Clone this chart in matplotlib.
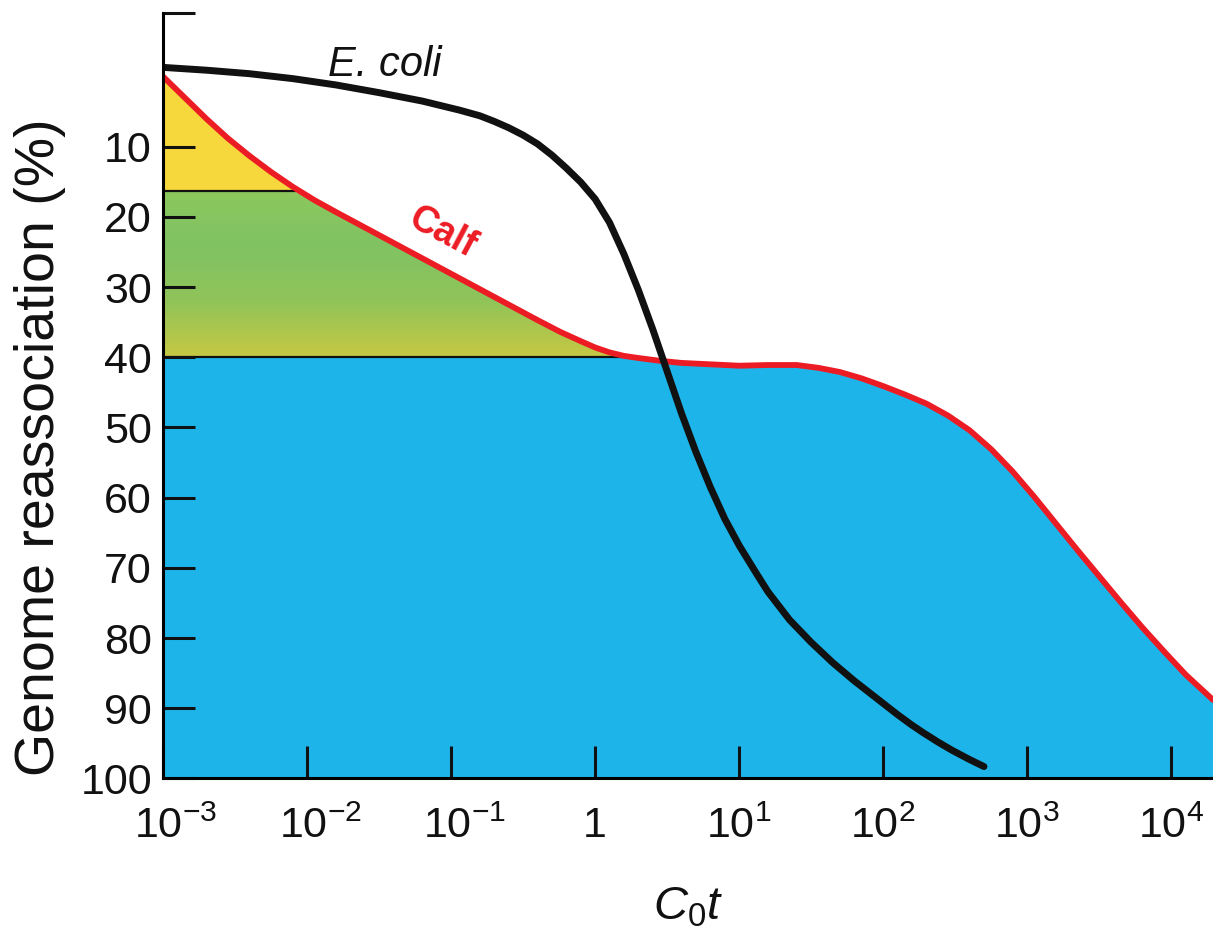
import numpy as np
import matplotlib
matplotlib.use("Agg")
from matplotlib import pyplot as plt
from matplotlib.colors import LinearSegmentedColormap
from matplotlib.transforms import ScaledTranslation

plt.rcParams['font.family'] = ['Liberation Sans', 'DejaVu Sans']
plt.rcParams['mathtext.fontset'] = 'custom'
plt.rcParams['mathtext.rm'] = 'Liberation Sans'
plt.rcParams['mathtext.it'] = 'Liberation Sans:italic'
plt.rcParams['mathtext.default'] = 'regular'

# values (log10 of C0t, % reassociation)
calf_log_cot = [-3.00, -2.85, -2.70, -2.55, -2.40, -2.25, -2.10, -1.95, -1.80, -1.60,
                -1.40, -1.20, -1.00, -0.80, -0.60, -0.40, -0.24, -0.10, 0.00, 0.10,
                0.20, 0.30, 0.45, 0.60, 0.80, 1.00, 1.20, 1.40, 1.55, 1.70,
                1.85, 2.00, 2.15, 2.30, 2.45, 2.60, 2.75, 2.90, 3.05, 3.20,
                3.35, 3.50, 3.65, 3.80, 3.95, 4.10, 4.29]
calf_pct = [0.0, 3.0, 6.0, 8.8, 11.3, 13.6, 15.7, 17.6, 19.3, 21.5,
            23.7, 25.9, 28.1, 30.3, 32.5, 34.7, 36.4, 37.7, 38.6, 39.3,
            39.8, 40.1, 40.5, 40.8, 41.0, 41.2, 41.1, 41.1, 41.5, 42.1,
            43.0, 44.1, 45.3, 46.6, 48.3, 50.4, 53.1, 56.3, 59.9, 63.7,
            67.5, 71.2, 74.9, 78.5, 81.9, 85.2, 88.8]

ecoli_log_cot = [-3.00, -2.70, -2.40, -2.10, -1.80, -1.50, -1.20, -0.94, -0.80, -0.70,
                 -0.60, -0.50, -0.40, -0.30, -0.20, -0.10, 0.00, 0.10, 0.20, 0.30,
                 0.40, 0.50, 0.60, 0.70, 0.80, 0.90, 1.00, 1.12, 1.20, 1.35,
                 1.50, 1.65, 1.80, 1.95, 2.10, 2.20, 2.28, 2.38, 2.48, 2.60, 2.70]
ecoli_pct = [-1.3, -0.9, -0.4, 0.3, 1.2, 2.3, 3.5, 4.8, 5.6, 6.4,
             7.3, 8.35, 9.6, 11.2, 13.05, 15.05, 17.45, 20.8, 25.3, 30.4,
             36.0, 42.0, 48.0, 53.5, 58.5, 63.0, 66.8, 70.8, 73.4, 77.4,
             80.6, 83.5, 86.1, 88.5, 90.9, 92.4, 93.5, 94.8, 96.0, 97.3, 98.3]

# boundaries between the shaded fractions
fast_limit = 16.3
mid_limit = 40.0

x_tick_exps = [-3, -2, -1, 0, 1, 2, 3, 4]
x_tick_labels = ['$10^{-3}$', '$10^{-2}$', '$10^{-1}$', '1',
                 '$10^{1}$', '$10^{2}$', '$10^{3}$', '$10^{4}$']
y_ticks = [10, 20, 30, 40, 50, 60, 70, 80, 90, 100]

calf_lx = np.array(calf_log_cot)
calf_x = 10 ** calf_lx
calf_y = np.array(calf_pct)
ecoli_x = 10 ** np.array(ecoli_log_cot)
ecoli_y = np.array(ecoli_pct)
x_max = 10 ** 4.29

fig = plt.figure(figsize=(12.13, 9.33), dpi=100)
ax = fig.add_axes([0.1344, 0.1656, 0.8656, 0.8205])
ax.set_xscale('log')
ax.set_xlim(1e-3, x_max)
ax.set_ylim(100, -9.05)

# blue: slow (unique) fraction
ax.fill_between(calf_x, np.maximum(calf_y, mid_limit), 100,
                color='#1db5e9', lw=0, zorder=1)
# yellow: fastest fraction
ax.fill_between(calf_x, calf_y, fast_limit, where=calf_y <= fast_limit,
                interpolate=True, color='#f6d73c', lw=0, zorder=1)
# green: intermediate fraction with a soft gradient
green = ax.fill_between(calf_x, np.clip(calf_y, fast_limit, mid_limit), mid_limit,
                        color='none', lw=0, zorder=1)
cmap = LinearSegmentedColormap.from_list('g', ['#8cc85c', '#80c263', '#90c459', '#c6c843'])
grad = np.linspace(0, 1, 256).reshape(-1, 1)
img = ax.imshow(grad, cmap=cmap, aspect='auto', origin='upper',
                extent=(1e-3, x_max, mid_limit, fast_limit), zorder=1)
img.set_clip_path(green.get_paths()[0], transform=ax.transData)

# dividing lines, ending where they meet the calf curve
rising = slice(0, 23)
x16 = 10 ** np.interp(fast_limit, calf_y[rising], calf_lx[rising])
x40 = 10 ** np.interp(mid_limit, calf_y[rising], calf_lx[rising])
ax.plot([1e-3, x16], [fast_limit, fast_limit], color='#111111', lw=1.6, zorder=2)
ax.plot([1e-3, x40], [mid_limit, mid_limit], color='#111111', lw=1.6, zorder=2)

ax.plot(calf_x, calf_y, color='#ec1c24', lw=4.2, zorder=3,
        solid_capstyle='round', solid_joinstyle='round')
ax.plot(ecoli_x, ecoli_y, color='#111111', lw=5.0, zorder=4,
        solid_capstyle='round', solid_joinstyle='round')

ax.text(10 ** -1.46, -1.7, 'E. coli', style='italic', fontsize=30,
        ha='center', va='center', color='#111111')
ax.text(10 ** -1.06, 22.3, 'Calf', fontsize=27, fontweight='bold', color='#ec1c24',
        ha='center', va='center', rotation=-28, rotation_mode='anchor')

for s in ['top', 'right']:
    ax.spines[s].set_visible(False)
for s in ['left', 'bottom']:
    ax.spines[s].set_linewidth(2.2)
    ax.spines[s].set_zorder(5)

ax.set_xticks([10.0 ** e for e in x_tick_exps])
ax.set_xticklabels(x_tick_labels)
ax.minorticks_off()
ax.set_yticks([-9.05] + y_ticks)
ax.set_yticklabels([''] + [str(v) for v in y_ticks])
ax.tick_params(axis='both', direction='in', length=23, width=2.2, color='#111111',
               labelsize=31, labelcolor='#111111')
ax.tick_params(axis='y', pad=8)
ax.tick_params(axis='x', pad=20)

# the negative-power labels sit a little right of their ticks
for e, lab in zip(x_tick_exps, ax.get_xticklabels()):
    if e < 0:
        lab.set_transform(lab.get_transform() + ScaledTranslation(0.13, 0, fig.dpi_scale_trans))

ax.set_ylabel('Genome reassociation (%)', fontsize=40, color='#111111')
ax.yaxis.set_label_coords(-0.092, 0.433)
ax.set_xlabel('$\\mathit{C}_0\\mathit{t}$', fontsize=34, color='#111111', labelpad=28)

fig.savefig('out.png', dpi=100)
